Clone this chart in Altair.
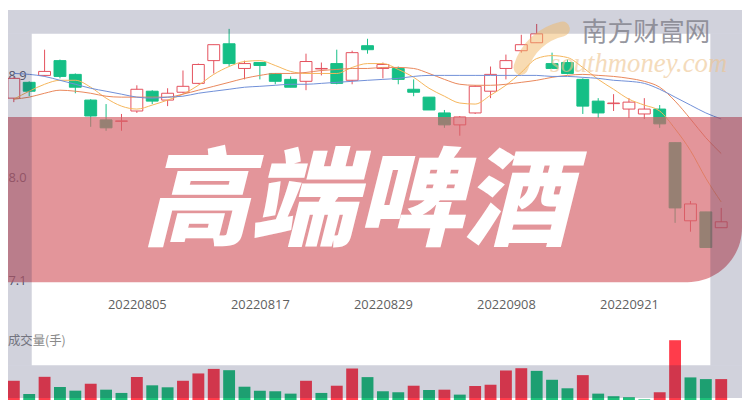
import altair as alt
import pandas as pd

# ---------------- data ----------------
dates = ["20220726", "20220727", "20220728", "20220729", "20220801", "20220802", "20220803",
         "20220804", "20220805", "20220808", "20220809", "20220810", "20220811", "20220812",
         "20220815", "20220816", "20220817", "20220818", "20220819", "20220822", "20220823",
         "20220824", "20220825", "20220826", "20220829", "20220830", "20220831", "20220901",
         "20220902", "20220905", "20220906", "20220907", "20220908", "20220909", "20220913",
         "20220914", "20220915", "20220916", "20220919", "20220920", "20220921", "20220922",
         "20220923", "20220926", "20220927", "20220928", "20220929"]
tick_dates = ["20220805", "20220817", "20220829", "20220908", "20220921"]
price_ticks = [7.1, 8.0, 8.9]

opens = [8.700, 8.839, 8.900, 9.030, 8.909, 8.683, 8.509, 8.496, 8.587, 8.761, 8.683, 8.752,
         8.830, 9.030, 9.178, 8.961, 9.013, 8.917, 8.865, 8.848, 8.957, 9.004, 8.857, 9.161,
         8.961, 8.961, 8.778, 8.709, 8.570, 8.465, 8.570, 8.761, 8.961, 9.117, 9.187, 9.004,
         9.013, 8.865, 8.674, 8.652, 8.604, 8.561, 8.604, 8.309, 7.622, 7.700, 7.561]
closes = [8.874, 8.761, 8.935, 8.891, 8.796, 8.543, 8.439, 8.500, 8.778, 8.674, 8.743, 8.804,
          8.996, 9.170, 9.004, 9.004, 8.987, 8.848, 8.796, 9.022, 8.961, 8.830, 9.100, 9.126,
          8.996, 8.865, 8.752, 8.596, 8.465, 8.535, 8.804, 8.909, 9.030, 9.170, 9.265, 8.961,
          8.917, 8.630, 8.570, 8.657, 8.665, 8.604, 8.474, 7.735, 7.770, 7.387, 7.613]
highs = [8.883, 8.848, 9.126, 9.039, 8.917, 8.691, 8.648, 8.561, 8.813, 8.770, 8.787, 8.943,
         9.004, 9.170, 9.309, 9.030, 9.013, 8.917, 8.891, 9.091, 9.013, 9.126, 9.117, 9.222,
         9.013, 8.978, 8.865, 8.709, 8.596, 8.543, 8.813, 8.978, 9.083, 9.257, 9.352, 9.100,
         9.039, 8.874, 8.700, 8.735, 8.700, 8.700, 8.639, 8.309, 7.796, 7.700, 7.735]
lows = [8.665, 8.717, 8.891, 8.874, 8.743, 8.448, 8.413, 8.413, 8.570, 8.648, 8.630, 8.743,
        8.822, 8.917, 8.978, 8.865, 8.865, 8.822, 8.796, 8.770, 8.900, 8.822, 8.822, 9.091,
        8.874, 8.822, 8.717, 8.596, 8.439, 8.370, 8.561, 8.700, 8.865, 9.100, 9.187, 8.961,
        8.909, 8.561, 8.526, 8.587, 8.526, 8.517, 8.439, 7.604, 7.526, 7.387, 7.561]

ma5 = [8.691, 8.761, 8.822, 8.857, 8.857, 8.796, 8.700, 8.630, 8.604, 8.639, 8.683, 8.735,
       8.813, 8.909, 8.978, 9.022, 9.030, 8.987, 8.935, 8.917, 8.917, 8.917, 8.970, 9.004,
       9.004, 8.952, 8.883, 8.787, 8.717, 8.657, 8.648, 8.726, 8.813, 8.926, 9.048, 9.074,
       9.057, 8.970, 8.865, 8.778, 8.691, 8.639, 8.587, 8.430, 8.239, 7.996, 7.787]
ma10 = [8.691, 8.709, 8.743, 8.770, 8.761, 8.743, 8.717, 8.709, 8.709, 8.709, 8.709, 8.735,
        8.770, 8.804, 8.839, 8.874, 8.900, 8.917, 8.917, 8.926, 8.943, 8.952, 8.961, 8.961,
        8.970, 8.970, 8.961, 8.917, 8.865, 8.822, 8.813, 8.813, 8.822, 8.839, 8.857, 8.883,
        8.900, 8.909, 8.900, 8.891, 8.874, 8.848, 8.796, 8.674, 8.517, 8.352, 8.213]
ma20 = [8.917, 8.909, 8.891, 8.857, 8.822, 8.787, 8.761, 8.735, 8.709, 8.700, 8.709, 8.717,
        8.743, 8.761, 8.778, 8.796, 8.804, 8.813, 8.822, 8.822, 8.830, 8.839, 8.848, 8.857,
        8.865, 8.874, 8.891, 8.900, 8.900, 8.900, 8.900, 8.900, 8.900, 8.900, 8.900, 8.891,
        8.891, 8.883, 8.874, 8.857, 8.848, 8.830, 8.778, 8.709, 8.639, 8.570, 8.517]

volumes = [22300, 9000, 26300, 16000, 12300, 19300, 13300, 10000, 26000, 17700, 15700, 22300,
           29700, 34300, 33000, 16300, 12300, 11700, 9300, 22300, 10000, 17300, 34700, 26000,
           11700, 10700, 17300, 13000, 13300, 8300, 17000, 18300, 32700, 35000, 32300, 23300,
           14700, 28000, 9300, 6700, 5700, 3500, 10700, 63300, 25700, 24000, 24000]
vol_dir = ["up", "down", "up", "down", "down", "up", "down", "down", "up", "down", "down", "up",
           "up", "up", "down", "down", "down", "down", "down", "up", "down", "up", "up", "down",
           "down", "down", "up", "down", "up", "down", "up", "up", "up", "up", "down", "down",
           "down", "up", "down", "down", "down", "down", "up", "up", "down", "down", "up"]

banner_text = "高端啤酒"
volume_label = "成交量(手)"
brand_cn = "南方财富网"
brand_en = "southmoney.com"

# ---------------- styles ----------------
W, H = 742, 392
RED = "#e4505c"
GREEN = "#15bf86"
VOL_RED = "#ff3c4b"
VOL_GREEN = "#1fc07a"

n = len(dates)
candles = pd.DataFrame({"i": list(range(n)), "date": dates, "open": opens, "close": closes,
                        "high": highs, "low": lows})
candles["dir"] = ["up" if c >= o else "down" for o, c in zip(opens, closes)]

ma_df = pd.concat([
    pd.DataFrame({"i": list(range(n)), "value": vals, "series": name})
    for name, vals in [("MA5", ma5), ("MA10", ma10), ("MA20", ma20)]
], ignore_index=True)

vol_df = pd.DataFrame({"i": list(range(n)), "volume": volumes, "dir": vol_dir})
one = pd.DataFrame({"k": [0]})

xscale = alt.Scale(domain=[-0.057, 47.03], nice=False, zero=False)
yscale = alt.Scale(domain=[6.0652, 9.4739], nice=False, zero=False)
vscale = alt.Scale(domain=[5000, 397000], nice=False, zero=False)

label_expr = "[" + ",".join("'%s'" % d for d in dates) + "][datum.value]"
xaxis = alt.Axis(values=[dates.index(d) for d in tick_dates], labelExpr=label_expr,
                 orient="bottom", offset=-100, ticks=False, tickSize=0, domain=False,
                 grid=False, labelPadding=0, labelFont="Open Sans", labelFontSize=13,
                 labelColor="#5f5f5f", labelFlush=False, title=None)
yaxis = alt.Axis(values=price_ticks, format=".1f", orient="left", offset=0, ticks=False,
                 tickSize=0, domain=False, grid=False, labelPadding=0, labelAlign="left",
                 labelFont="Open Sans", labelFontSize=13, labelColor="#5f6070", title=None)

X = alt.X("i:Q", scale=xscale, axis=xaxis, title=None)
is_up = "datum.dir == 'up'"

wicks = alt.Chart(candles).mark_rule(strokeWidth=1).encode(
    x=X,
    y=alt.Y("low:Q", scale=yscale, axis=yaxis, title=None),
    y2="high:Q",
    color=alt.condition(is_up, alt.value(RED), alt.value(GREEN)),
)
bodies = alt.Chart(candles).mark_bar(size=12, strokeWidth=1).encode(
    x=X,
    y=alt.Y("open:Q", scale=yscale, axis=yaxis, title=None),
    y2="close:Q",
    fill=alt.condition(is_up, alt.value("#ffffff"), alt.value(GREEN)),
    stroke=alt.condition(is_up, alt.value(RED), alt.value(GREEN)),
)
lines = alt.Chart(ma_df).mark_line(strokeWidth=1, interpolate="monotone").encode(
    x=X,
    y=alt.Y("value:Q", scale=yscale, axis=yaxis, title=None),
    color=alt.Color("series:N", scale=alt.Scale(domain=["MA5", "MA10", "MA20"],
                                                range=["#f5b55a", "#e9875a", "#6f8fd8"]),
                    legend=None),
)
price = alt.layer(wicks, bodies, lines)

volume = alt.Chart(vol_df).mark_bar(size=12).encode(
    x=X,
    y=alt.Y("volume:Q", scale=vscale, axis=None, title=None),
    y2=alt.datum(0),
    color=alt.condition(is_up, alt.value(VOL_RED), alt.value(VOL_GREEN)),
)

vol_label = alt.Chart(one).mark_text(
    text=volume_label, align="left", baseline="middle", font="Noto Sans CJK SC",
    fontSize=12.5, color="#8a8a8a"
).encode(x=alt.value(0), y=alt.value(335))

banner = alt.Chart(one).mark_rect(
    color="#d6636a", opacity=0.68, cornerRadiusBottomRight=55
).encode(x=alt.value(0), x2=alt.value(W), y=alt.value(108), y2=alt.value(275))

banner_txt = alt.Chart(one).mark_text(
    text=banner_text, font="Noto Sans CJK SC", fontSize=108, fontWeight=900,
    fontStyle="italic", color="#ffffff", align="center", baseline="alphabetic"
).encode(x=alt.value(352), y=alt.value(229))

OV = dict(color="#1a1f50", opacity=0.2)
ov_top = alt.Chart(one).mark_rect(**OV).encode(
    x=alt.value(0), x2=alt.value(W), y=alt.value(0), y2=alt.value(24))
ov_bottom = alt.Chart(one).mark_rect(**OV).encode(
    x=alt.value(0), x2=alt.value(W), y=alt.value(359), y2=alt.value(H))
ov_left = alt.Chart(one).mark_rect(**OV).encode(
    x=alt.value(0), x2=alt.value(24), y=alt.value(24), y2=alt.value(359))
ov_right = alt.Chart(one).mark_rect(**OV).encode(
    x=alt.value(710), x2=alt.value(W), y=alt.value(24), y2=alt.value(359))

crescent = alt.Chart(one).mark_arc(
    theta=4.87, theta2=6.2, radius=64, radius2=49, cornerRadius=8,
    color="#f2b866", opacity=0.5
).encode(x=alt.value(572.6), y=alt.value(74.2))

brand_en_txt = alt.Chart(one).mark_text(
    text=brand_en, font="Liberation Serif", fontStyle="italic", fontSize=27,
    color="#eec48e", opacity=0.6, align="right", baseline="alphabetic"
).encode(x=alt.value(727), y=alt.value(63))

brand_cn_txt = alt.Chart(one).mark_text(
    text=brand_cn, font="Noto Sans CJK SC", fontSize=26, color="#85858f", opacity=0.85,
    align="center", baseline="alphabetic"
).encode(x=alt.value(645), y=alt.value(31))

chart = alt.layer(
    price, volume, vol_label, banner, banner_txt,
    ov_top, ov_bottom, ov_left, ov_right,
    crescent, brand_en_txt, brand_cn_txt
).resolve_scale(y="independent").properties(
    width=W, height=H, padding=0, background="#ffffff",
    autosize=alt.AutoSizeParams(type="none")
).configure_view(stroke=None)

chart.save("out.html", embed_options={"renderer": "svg", "actions": False})
